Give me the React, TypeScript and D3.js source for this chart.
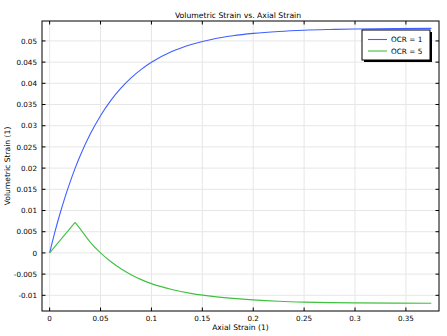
import React from "react";
import * as d3 from "d3";

const blueX = [0, 0.005, 0.01, 0.015, 0.02, 0.025, 0.03, 0.04, 0.05, 0.06, 0.07, 0.08, 0.09, 0.1, 0.12, 0.14, 0.16, 0.18, 0.2, 0.225, 0.25, 0.275, 0.3, 0.34, 0.375];
const blueY = [0, 0.00477, 0.00912, 0.01306, 0.01664, 0.01993, 0.02291, 0.02808, 0.03237, 0.03591, 0.03885, 0.04128, 0.0433, 0.04497, 0.04749, 0.04922, 0.05041, 0.05122, 0.05178, 0.05224, 0.05253, 0.0527, 0.05282, 0.05291, 0.05295];

const greenX = [0, 0.025, 0.03, 0.04, 0.05, 0.06, 0.07, 0.08, 0.09, 0.1, 0.12, 0.14, 0.16, 0.18, 0.2, 0.225, 0.25, 0.275, 0.3, 0.34, 0.375];
const greenY = [0, 0.0072, 0.00568, 0.00249, 0.00002, -0.00203, -0.00373, -0.00513, -0.0063, -0.00724, -0.00862, -0.0096, -0.01025, -0.01072, -0.01108, -0.0114, -0.0116, -0.01172, -0.01179, -0.01185, -0.01187];

const xTicks = [0, 0.05, 0.1, 0.15, 0.2, 0.25, 0.3, 0.35];
const yTicks = [-0.01, -0.005, 0, 0.005, 0.01, 0.015, 0.02, 0.025, 0.03, 0.035, 0.04, 0.045, 0.05];
const seriesNames = ["OCR = 1", "OCR = 5"];
const seriesColors = ["#4060ff", "#40c040"];

const W = 447, H = 336;
const L = 42, T = 21, R = 439, B = 311;
const FONT = "DejaVu Sans, sans-serif";

export default function App() {
  const x = d3.scaleLinear().domain([-0.0075, 0.3825]).range([L, R]);
  const y = d3.scaleLinear().domain([-0.0137, 0.0547]).range([B, T]);

  const blue = blueX.map((v, i) => [v, blueY[i]] as [number, number]);
  const green = greenX.map((v, i) => [v, greenY[i]] as [number, number]);

  const lineM = d3.line<[number, number]>().x(d => x(d[0])).y(d => y(d[1])).curve(d3.curveMonotoneX);
  const lineL = d3.line<[number, number]>().x(d => x(d[0])).y(d => y(d[1]));

  const fmt = (v: number) => (Math.abs(v) < 1e-12 ? "0" : String(+v.toFixed(4)));

  const lx = 362, ly = 30, lw = 68, lh = 30;

  return (
    <div style={{ position: "fixed", left: 0, top: 0 }}>
      <svg width={W} height={H} style={{ display: "block", background: "#fff" }} fontFamily={FONT}>
        <rect x={0} y={0} width={W} height={H} fill="#fff" />
        {xTicks.map(t => (
          <line key={"gx" + t} x1={x(t)} x2={x(t)} y1={T} y2={B} stroke="#e6e6e6" strokeWidth={1} />
        ))}
        {yTicks.map(t => (
          <line key={"gy" + t} x1={L} x2={R} y1={y(t)} y2={y(t)} stroke="#e6e6e6" strokeWidth={1} />
        ))}
        <path d={lineM(blue) || ""} fill="none" stroke={seriesColors[0]} strokeWidth={1.1} />
        <path d={lineL(green.slice(0, 2)) || ""} fill="none" stroke={seriesColors[1]} strokeWidth={1.1} />
        <path d={lineM(green.slice(1)) || ""} fill="none" stroke={seriesColors[1]} strokeWidth={1.1} />
        <rect x={L} y={T} width={R - L} height={B - T} fill="none" stroke="#000" strokeWidth={1} />
        {xTicks.map(t => (
          <g key={"tx" + t}>
            <line x1={x(t)} x2={x(t)} y1={B} y2={B - 3.5} stroke="#000" />
            <line x1={x(t)} x2={x(t)} y1={T} y2={T + 3.5} stroke="#000" />
            <text x={x(t)} y={B + 10} fontSize={7.2} textAnchor="middle" fill="#000">{fmt(t)}</text>
          </g>
        ))}
        {yTicks.map(t => (
          <g key={"ty" + t}>
            <line x1={L} x2={L + 3.5} y1={y(t)} y2={y(t)} stroke="#000" />
            <line x1={R} x2={R - 3.5} y1={y(t)} y2={y(t)} stroke="#000" />
            <text x={L - 5} y={y(t) + 2.6} fontSize={7.2} textAnchor="end" fill="#000">{fmt(t)}</text>
          </g>
        ))}
        <text x={238} y={18} fontSize={7.7} textAnchor="middle" fill="#000">Volumetric Strain vs. Axial Strain</text>
        <text x={(L + R) / 2} y={329.5} fontSize={7.6} textAnchor="middle" fill="#000">Axial Strain (1)</text>
        <text transform={`translate(10,${(T + B) / 2}) rotate(-90)`} fontSize={7.6} textAnchor="middle" fill="#000">Volumetric Strain (1)</text>
        <rect x={lx + 2} y={ly + 2} width={lw} height={lh} fill="#000" />
        <rect x={lx} y={ly} width={lw} height={lh} fill="#fff" stroke="#000" strokeWidth={1} />
        {seriesNames.map((n, i) => (
          <g key={n}>
            <line x1={lx + 6} x2={lx + 25} y1={ly + 9.5 + i * 11.5} y2={ly + 9.5 + i * 11.5} stroke={seriesColors[i]} strokeWidth={1.1} />
            <text x={lx + 29} y={ly + 12 + i * 11.5} fontSize={7.3} fill="#000">{n}</text>
          </g>
        ))}
      </svg>
    </div>
  );
}
